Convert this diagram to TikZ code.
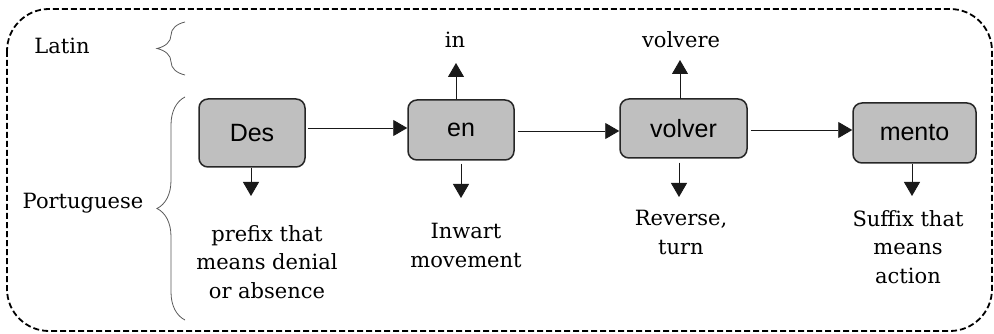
\documentclass[tikz,border=0pt]{standalone}
\usepackage{fontspec}
\setmainfont{DejaVu Serif}
\newfontfamily\boxfont{Liberation Sans}
\usetikzlibrary{arrows.meta,decorations.pathreplacing}
\begin{document}
\begin{tikzpicture}[x=1pt,y=-1pt,
  morph/.style={draw=black!85,line width=1.5pt,fill=black!25,rounded corners=9pt,
    inner sep=0pt,font=\boxfont\fontsize{25}{28}\selectfont},
  lbl/.style={font=\fontsize{21}{28.8}\selectfont,align=center,inner sep=0pt},
  arr/.style={-{Triangle[length=14pt,width=16pt]},line width=0.9pt,draw=black!90},
  br/.style={decorate,decoration={brace,amplitude=28pt},draw=black!65,line width=0.8pt}]
\useasboundingbox (0,0) rectangle (994,334);
\draw[line width=1.8pt,dash pattern=on 6pt off 3pt,rounded corners=42pt]
  (7,9) rectangle (992,331);

% side labels and braces
\node[lbl] (latin) at (62,46) {Latin};
\node[lbl] (port) at (83,203) {Portuguese};
\draw[br] (185,75) -- (185,22);
\draw[br] (185,320) -- (185,97);

% morpheme boxes
\node[morph,minimum width=106pt,minimum height=68pt] (des) at (252,133) {Des};
\node[morph,minimum width=106pt,minimum height=60pt] (en) at (461,130) {en};
\node[morph,minimum width=127pt,minimum height=59pt] (volver) at (683.5,128.5) {volver};
\node[morph,minimum width=123pt,minimum height=60pt] (mento) at (914.5,133) {mento};

% horizontal connectors
\draw[arr] ([xshift=2pt,yshift=5pt]des.east) -- ([yshift=2pt]en.west);
\draw[arr] ([xshift=3pt,yshift=-1pt]en.east) -- ([yshift=-2.5pt]volver.west);
\draw[arr] ([xshift=3pt,yshift=-1.5pt]volver.east) -- ([yshift=3pt]mento.west);

% Latin origins
\node[lbl] (in) at (455,40) {in};
\node[lbl] (volvere) at (681,40) {volvere};
\coordinate (inA) at (456,63);
\coordinate (volvereA) at (680,60);
\draw[arr] (en.north -| inA) -- (inA);
\draw[arr] ([yshift=-1pt]volver.north -| volvereA) -- (volvereA);

% meanings
\node[lbl,anchor=north] (desM) at (267,225) {prefix that\\means denial\\or absence};
\node[lbl,anchor=north] (enM) at (466,223) {Inwart\\movement};
\node[lbl,anchor=north] (volverM) at (681,210) {Reverse,\\turn};
\node[lbl,anchor=north] (mentoM) at (908,210) {Suffix that\\means\\action};
\coordinate (desA) at (251,196);
\coordinate (enA) at (461,198);
\coordinate (volverA) at (679,197);
\coordinate (mentoA) at (912,196);
\draw[arr] (des.south -| desA) -- (desA);
\draw[arr] ([yshift=-3pt]en.south -| enA) -- (enA);
\draw[arr] ([yshift=-4pt]volver.south -| volverA) -- (volverA);
\draw[arr] (mento.south -| mentoA) -- (mentoA);
\end{tikzpicture}
\end{document}
